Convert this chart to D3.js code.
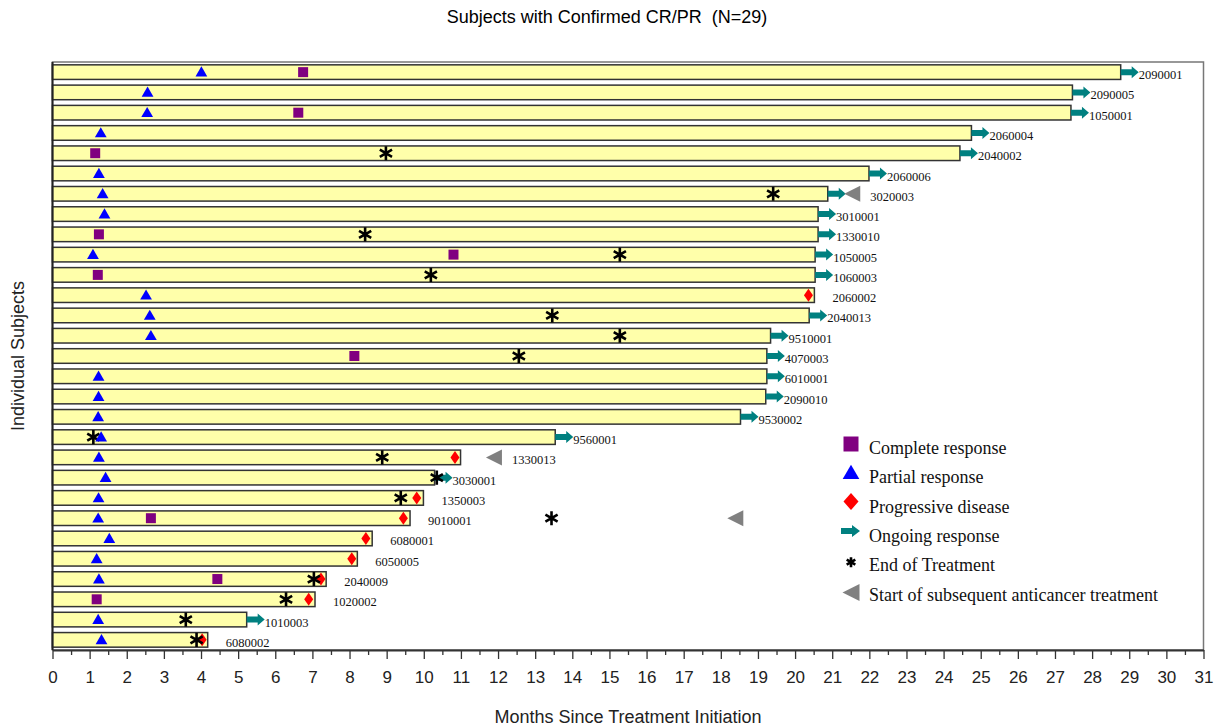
<!DOCTYPE html>
<html>
<head>
<meta charset="utf-8">
<script src="https://cdn.jsdelivr.net/npm/d3@7"></script>
<style>
  html, body { margin: 0; padding: 0; background: #fff; }
  svg { display: block; }
</style>
</head>
<body>
<svg id="chart" width="1215" height="728"></svg>
<script>
// Swimmer plot: one row per responding subject, months since treatment start
const subjects = ["2090001","2090005","1050001","2060004","2040002","2060006","3020003","3010001","1330010","1050005",
  "1060003","2060002","2040013","9510001","4070003","6010001","2090010","9530002","9560001","1330013",
  "3030001","1350003","9010001","6080001","6050005","2040009","1020002","1010003","6080002"];
// Time on study (bar length, months)
const duration = [28.77,27.47,27.43,24.75,24.44,21.99,20.88,20.62,20.62,20.54,
  20.54,20.52,20.38,19.34,19.24,19.24,19.21,18.53,13.54,10.99,
  10.29,9.99,9.63,8.61,8.21,7.37,7.07,5.23,4.18];
// Response still ongoing at data cut-off (1 = yes)
const ongoing = [1,1,1,1,1,1,1,1,1,1, 1,0,1,1,1,1,1,1,1,0, 1,0,0,0,0,0,0,1,0];
// Event times (months); null when the event did not occur
const completeResponse = [6.75,null,6.62,null,1.15,null,null,null,1.25,10.80,
  1.22,null,null,null,8.13,null,null,null,null,null,
  null,null,2.65,null,null,4.44,1.19,null,null];
const partialResponse = [4.01,2.56,2.55,1.30,null,1.25,1.35,1.40,null,1.09,
  null,2.52,2.62,2.65,null,1.24,1.24,1.23,1.31,1.25,
  1.43,1.24,1.23,1.53,1.19,1.25,null,1.23,1.32];
const progressiveDisease = [null,null,null,null,null,null,null,null,null,null,
  null,20.36,null,null,null,null,null,null,null,10.84,
  null,9.81,9.45,8.44,8.06,7.23,6.90,null,4.03];
const endOfTreatment = [null,null,null,null,8.98,null,19.41,null,8.42,15.28,
  10.19,null,13.46,15.28,12.56,null,null,null,1.10,8.88,
  10.35,9.38,13.44,null,null,7.04,6.29,3.59,3.88];
const nextTherapy = [null,null,null,null,null,null,21.54,null,null,null,
  null,null,null,null,null,null,null,null,null,11.89,
  null,null,18.39,null,null,null,null,null,null];

const xTicks = d3.range(0, 32);
const legendItems = ["Complete response","Partial response","Progressive disease","Ongoing response","End of Treatment","Start of subsequent anticancer treatment"];

const colors = { cr: "#800080", pr: "#0000ff", pd: "#ff0000", arrow: "#008080", eot: "#000000", next: "#808080", bar: "#ffffaa" };
const sans = "'Liberation Sans', Arial, sans-serif";
const serif = "'Liberation Serif', 'Times New Roman', serif";

const svg = d3.select("#chart");
const margin = { left: 52.5, right: 1203.5, top: 62, bottom: 650 };

const x = d3.scaleLinear().domain([0, 31]).range([margin.left, margin.right]);
const y = d3.scaleBand().domain(d3.range(subjects.length))
  .range([margin.top, margin.bottom]).paddingInner(0.28).paddingOuter(0.14);
const yc = i => y(i) + y.bandwidth() / 2;

// Title
svg.append("text").attr("x", 607).attr("y", 23).attr("text-anchor", "middle")
  .style("white-space", "pre")
  .attr("font-family", sans).attr("font-size", 18)
  .text("Subjects with Confirmed CR/PR  (N=29)");

// Frame
svg.append("rect").attr("x", margin.left).attr("y", margin.top)
  .attr("width", margin.right - margin.left).attr("height", margin.bottom - margin.top)
  .attr("fill", "none").attr("stroke", "#777").attr("stroke-width", 1.5);

// Bars
svg.append("g").selectAll("rect").data(subjects).join("rect")
  .attr("x", x(0)).attr("y", (d, i) => y(i))
  .attr("width", (d, i) => x(duration[i]) - x(0)).attr("height", y.bandwidth())
  .attr("fill", colors.bar).attr("stroke", "#333").attr("stroke-width", 1.5);

// Axes
const minor = svg.append("g").attr("transform", `translate(0,${margin.bottom})`)
  .call(d3.axisBottom(x).tickValues(d3.range(0.5, 31, 1)).tickSize(5).tickFormat(""));
minor.select(".domain").remove();
minor.selectAll("line").attr("stroke", "#333").attr("stroke-width", 1.3);

const xAxis = svg.append("g").attr("transform", `translate(0,${margin.bottom})`)
  .call(d3.axisBottom(x).tickValues(xTicks).tickSize(9).tickPadding(12).tickSizeOuter(0));
xAxis.select(".domain").attr("stroke", "#333").attr("stroke-width", 2);
xAxis.selectAll(".tick line").attr("stroke", "#333").attr("stroke-width", 1.3);
xAxis.selectAll("text").attr("font-family", sans)
  .attr("font-size", 17).attr("fill", "#222");

svg.append("line").attr("x1", margin.left).attr("x2", margin.left)
  .attr("y1", margin.top).attr("y2", margin.bottom).attr("stroke", "#222").attr("stroke-width", 2);

// Axis titles
svg.append("text").attr("x", 628).attr("y", 723).attr("text-anchor", "middle")
  .attr("font-family", sans).attr("font-size", 18).attr("fill", "#222")
  .text("Months Since Treatment Initiation");
svg.append("text").attr("transform", "translate(24,356) rotate(-90)").attr("text-anchor", "middle")
  .attr("font-family", sans).attr("font-size", 18).attr("fill", "#222")
  .text("Individual Subjects");

// Marker shapes
const squarePath = s => d3.symbol(d3.symbolSquare, s * s)();
const trianglePath = s => d3.symbol(d3.symbolTriangle, s)();
const diamondPath = (w, h) => `M0,${-h / 2}L${w / 2},0L0,${h / 2}L${-w / 2},0Z`;
const arrowPath = (len, shaftH, headH, headL) =>
  `M0,${-shaftH / 2}L${len - headL},${-shaftH / 2}L${len - headL},${-headH / 2}L${len},0L${len - headL},${headH / 2}L${len - headL},${shaftH / 2}L0,${shaftH / 2}Z`;
const leftTriPath = (w, h) => `M${-w / 2},0L${w / 2},${-h / 2}L${w / 2},${h / 2}Z`;
const starPath = s => d3.symbol(d3.symbolAsterisk, s)();

function markers(values) {
  return subjects.map((s, i) => ({ i, v: values[i] })).filter(d => d.v != null);
}

const marks = svg.append("g");

marks.selectAll(".cr").data(markers(completeResponse)).join("path")
  .attr("transform", d => `translate(${x(d.v)},${yc(d.i)})`)
  .attr("d", squarePath(10)).attr("fill", colors.cr);

marks.selectAll(".pd").data(markers(progressiveDisease)).join("path")
  .attr("transform", d => `translate(${x(d.v)},${yc(d.i)})`)
  .attr("d", diamondPath(9, 13)).attr("fill", colors.pd);

marks.selectAll(".arrow").data(markers(ongoing.map((o, i) => o ? duration[i] : null))).join("path")
  .attr("transform", d => `translate(${x(d.v)},${yc(d.i)})`)
  .attr("d", arrowPath(18, 6, 12, 7)).attr("fill", colors.arrow);

marks.selectAll(".eot").data(markers(endOfTreatment)).join("path")
  .attr("transform", d => `translate(${x(d.v)},${yc(d.i)})`)
  .attr("d", starPath(140)).attr("fill", "none").attr("stroke", colors.eot).attr("stroke-width", 2.6);

marks.selectAll(".pr").data(markers(partialResponse)).join("path")
  .attr("transform", d => `translate(${x(d.v)},${yc(d.i) + 1})`)
  .attr("d", trianglePath(60)).attr("fill", colors.pr);

marks.selectAll(".next").data(markers(nextTherapy)).join("path")
  .attr("transform", d => `translate(${x(d.v)},${yc(d.i)})`)
  .attr("d", leftTriPath(16, 16)).attr("fill", colors.next);

// Subject IDs: after the bar, or after a nearby subsequent-therapy marker
svg.append("g").selectAll("text").data(subjects).join("text")
  .attr("x", (d, i) => {
    const nt = nextTherapy[i];
    if (nt != null && nt - duration[i] < 2) return x(nt) + 8 + 10;
    return x(duration[i]) + 18;
  })
  .attr("y", (d, i) => yc(i) + 7)
  .attr("font-family", serif).attr("font-size", 12.5)
  .attr("fill", "#111")
  .text(d => d);

// Legend
const legend = svg.append("g").attr("transform", "translate(851,447)");
const rowH = 29.3;
const legendShapes = [
  g => g.append("path").attr("d", squarePath(15)).attr("fill", colors.cr).attr("transform", "translate(0,-3)"),
  g => g.append("path").attr("d", trianglePath(120)).attr("fill", colors.pr).attr("transform", "translate(0,-2)"),
  g => g.append("path").attr("d", diamondPath(15, 17)).attr("fill", colors.pd).attr("transform", "translate(0,-4)"),
  g => g.append("path").attr("d", arrowPath(19, 6, 12, 8)).attr("fill", colors.arrow).attr("transform", "translate(-10,-4)"),
  g => g.append("path").attr("d", starPath(70)).attr("fill", "none").attr("stroke", colors.eot).attr("stroke-width", 2.6).attr("transform", "translate(0,-2)"),
  g => g.append("path").attr("d", leftTriPath(17, 17)).attr("fill", colors.next).attr("transform", "translate(0,-1)")
];
legendItems.forEach((label, k) => {
  const g = legend.append("g").attr("transform", `translate(0,${k * rowH})`);
  legendShapes[k](g);
  g.append("text").attr("x", 18).attr("y", 7)
    .attr("font-family", serif).attr("font-size", 18)
    .attr("fill", "#111").text(label);
});
</script>
</body>
</html>
